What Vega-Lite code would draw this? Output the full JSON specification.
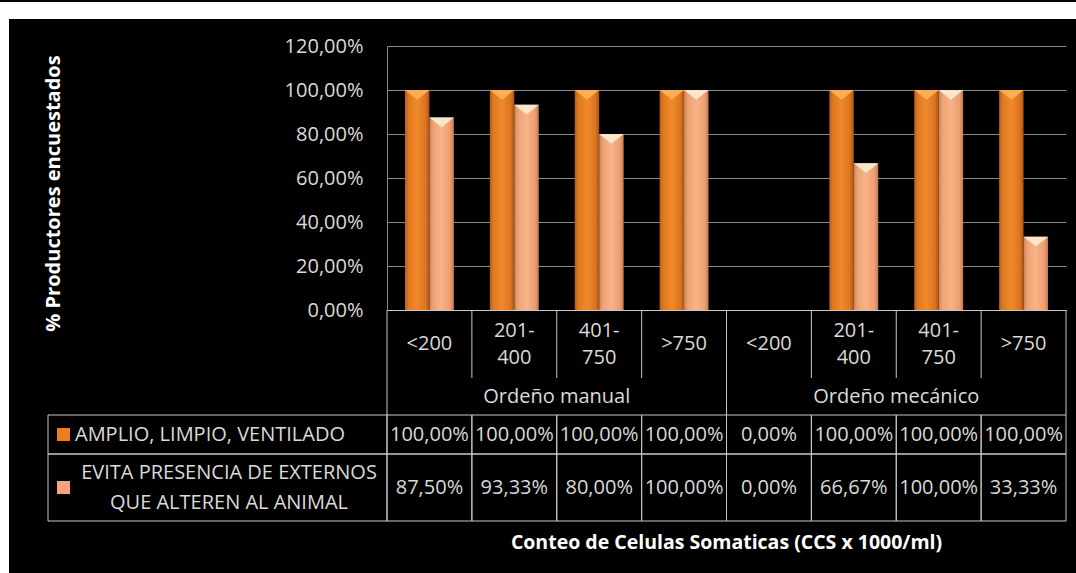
{
  "$schema": "https://vega.github.io/schema/vega-lite/v6.json",
  "background": "black",
  "padding": 0,
  "autosize": {"type": "pad"},
  "columns": 5,
  "spacing": 0,
  "bounds": "flush",
  "align": "each",
  "config": {
    "view": {"stroke": null},
    "font": "Open Sans",
    "text": {"font": "Open Sans", "fontSize": 20, "color": "#DADADA"},
    "locale": {"number": {"decimal": ",", "thousands": ".", "grouping": [3], "currency": ["", " €"]}}
  },
  "datasets": {
    "d": [
      {"grupo": "Ordeño manual", "rango": "<200", "col": "manual|<200", "s": "A", "serie": "AMPLIO, LIMPIO, VENTILADO", "valor": 1},
      {"grupo": "Ordeño manual", "rango": "<200", "col": "manual|<200", "s": "B", "serie": "EVITA PRESENCIA DE EXTERNOS\nQUE ALTEREN AL ANIMAL", "valor": 0.875},
      {"grupo": "Ordeño manual", "rango": "201-\n400", "col": "manual|201-400", "s": "A", "serie": "AMPLIO, LIMPIO, VENTILADO", "valor": 1},
      {"grupo": "Ordeño manual", "rango": "201-\n400", "col": "manual|201-400", "s": "B", "serie": "EVITA PRESENCIA DE EXTERNOS\nQUE ALTEREN AL ANIMAL", "valor": 0.9333},
      {"grupo": "Ordeño manual", "rango": "401-\n750", "col": "manual|401-750", "s": "A", "serie": "AMPLIO, LIMPIO, VENTILADO", "valor": 1},
      {"grupo": "Ordeño manual", "rango": "401-\n750", "col": "manual|401-750", "s": "B", "serie": "EVITA PRESENCIA DE EXTERNOS\nQUE ALTEREN AL ANIMAL", "valor": 0.8},
      {"grupo": "Ordeño manual", "rango": ">750", "col": "manual|>750", "s": "A", "serie": "AMPLIO, LIMPIO, VENTILADO", "valor": 1},
      {"grupo": "Ordeño manual", "rango": ">750", "col": "manual|>750", "s": "B", "serie": "EVITA PRESENCIA DE EXTERNOS\nQUE ALTEREN AL ANIMAL", "valor": 1},
      {"grupo": "Ordeño mecánico", "rango": "<200", "col": "mec|<200", "s": "A", "serie": "AMPLIO, LIMPIO, VENTILADO", "valor": 0},
      {"grupo": "Ordeño mecánico", "rango": "<200", "col": "mec|<200", "s": "B", "serie": "EVITA PRESENCIA DE EXTERNOS\nQUE ALTEREN AL ANIMAL", "valor": 0},
      {"grupo": "Ordeño mecánico", "rango": "201-\n400", "col": "mec|201-400", "s": "A", "serie": "AMPLIO, LIMPIO, VENTILADO", "valor": 1},
      {"grupo": "Ordeño mecánico", "rango": "201-\n400", "col": "mec|201-400", "s": "B", "serie": "EVITA PRESENCIA DE EXTERNOS\nQUE ALTEREN AL ANIMAL", "valor": 0.6667},
      {"grupo": "Ordeño mecánico", "rango": "401-\n750", "col": "mec|401-750", "s": "A", "serie": "AMPLIO, LIMPIO, VENTILADO", "valor": 1},
      {"grupo": "Ordeño mecánico", "rango": "401-\n750", "col": "mec|401-750", "s": "B", "serie": "EVITA PRESENCIA DE EXTERNOS\nQUE ALTEREN AL ANIMAL", "valor": 1},
      {"grupo": "Ordeño mecánico", "rango": ">750", "col": "mec|>750", "s": "A", "serie": "AMPLIO, LIMPIO, VENTILADO", "valor": 1},
      {"grupo": "Ordeño mecánico", "rango": ">750", "col": "mec|>750", "s": "B", "serie": "EVITA PRESENCIA DE EXTERNOS\nQUE ALTEREN AL ANIMAL", "valor": 0.3333}
    ]
  },
  "concat": [
    {"width": 9, "height": 17, "view": {"fill": "white"}, "data": {"values": [{}]}, "mark": {"type": "text", "text": ""}},
    {"width": 39, "height": 17, "view": {"fill": "white"}, "data": {"values": [{}]}, "mark": {"type": "text", "text": ""}},
    {"width": 339, "height": 17, "view": {"fill": "white"}, "data": {"values": [{}]}, "mark": {"type": "text", "text": ""}},
    {"width": 679, "height": 17, "view": {"fill": "white"}, "data": {"values": [{}]}, "mark": {"type": "text", "text": ""}},
    {"width": 10, "height": 17, "view": {"fill": "white"}, "data": {"values": [{}]}, "mark": {"type": "text", "text": ""}},

    {"width": 9, "height": 27, "view": {"fill": "white"}, "data": {"values": [{}]}, "mark": {"type": "text", "text": ""}},
    {"width": 39, "height": 27, "data": {"values": [{}]}, "mark": {"type": "text", "text": ""}},
    {"width": 339, "height": 27, "data": {"values": [{}]}, "mark": {"type": "text", "text": ""}},
    {"width": 679, "height": 27, "data": {"values": [{}]}, "mark": {"type": "text", "text": ""}},
    {"width": 10, "height": 27, "data": {"values": [{}]}, "mark": {"type": "text", "text": ""}},

    {"width": 9, "height": 264, "view": {"fill": "white"}, "data": {"values": [{}]}, "mark": {"type": "text", "text": ""}},
    {"width": 39, "height": 264, "data": {"values": [{}]}, "mark": {"type": "text", "text": ""}},
    {"width": 339, "height": 264, "data": {"values": [{}]}, "mark": {"type": "text", "text": ""}},
    {
      "width": 679, "height": 264,
      "data": {"name": "d"},
      "encoding": {
        "x": {"field": "col", "type": "nominal",
              "sort": ["manual|<200","manual|201-400","manual|401-750","manual|>750","mec|<200","mec|201-400","mec|401-750","mec|>750"],
              "scale": {"paddingInner": 0, "paddingOuter": 0},
              "axis": {"labels": false, "ticks": false, "title": null, "grid": false, "domainColor": "#C8C8C8", "domainWidth": 1}},
        "xOffset": {"field": "s", "type": "nominal", "scale": {"domain": ["A", "B"], "paddingInner": 0, "paddingOuter": 0.735}},
        "y": {"field": "valor", "type": "quantitative",
              "scale": {"domain": [0, 1.2], "nice": false},
              "axis": {"values": [0, 0.2, 0.4, 0.6, 0.8, 1, 1.2], "format": ".2%",
                       "labelFont": "Open Sans", "labelFontSize": 20, "labelColor": "#DADADA", "labelPadding": 24,
                       "ticks": false, "grid": true, "gridColor": "#8A8A8A", "domainColor": "#8A8A8A",
                       "title": "% Productores encuestados", "titleFont": "Open Sans", "titleFontWeight": "bold", "titleFontSize": 20,
                       "titleColor": "#FFFFFF", "titleX": -334, "titleY": 147, "titleAngle": -90, "titleAlign": "center", "titleBaseline": "middle"}}
      },
      "layer": [
        {"transform": [{"filter": "datum.s == 'A'"}],
         "mark": {"type": "bar", "stroke": null,
                  "fill": {"gradient": "linear", "x1": 0, "y1": 0, "x2": 1, "y2": 0,
                           "stops": [{"offset": 0, "color": "#B45E18"}, {"offset": 0.15, "color": "#E07A20"}, {"offset": 0.5, "color": "#F0892B"}, {"offset": 0.85, "color": "#DC7420"}, {"offset": 1, "color": "#A85416"}]}}},
        {"transform": [{"filter": "datum.s == 'B'"}],
         "mark": {"type": "bar", "stroke": null,
                  "fill": {"gradient": "linear", "x1": 0, "y1": 0, "x2": 1, "y2": 0,
                           "stops": [{"offset": 0, "color": "#C8845A"}, {"offset": 0.15, "color": "#EEA274"}, {"offset": 0.5, "color": "#F8B387"}, {"offset": 0.85, "color": "#EC9E70"}, {"offset": 1, "color": "#BE7A52"}]}}},
        {"transform": [{"filter": "datum.valor > 0"}],
         "mark": {"type": "point", "shape": "M-1,0L1,0L0,0.8Z", "size": 598, "filled": true, "opacity": 1, "strokeWidth": 0},
         "encoding": {"color": {"field": "s", "type": "nominal", "scale": {"domain": ["A", "B"], "range": ["#FFAE52", "#FFE6C8"]}, "legend": null}}}
      ]
    },
    {"width": 10, "height": 264, "data": {"values": [{}]}, "mark": {"type": "text", "text": ""}},

    {"width": 9, "height": 68, "view": {"fill": "white"}, "data": {"values": [{}]}, "mark": {"type": "text", "text": ""}},
    {"width": 39, "height": 68, "data": {"values": [{}]}, "mark": {"type": "text", "text": ""}},
    {"width": 339, "height": 68, "data": {"values": [{}]}, "mark": {"type": "text", "text": ""}},
    {
      "width": 679, "height": 68,
      "data": {"name": "d"},
      "transform": [{"filter": "datum.s == 'A'"}],
      "layer": [
        {"mark": {"type": "rule", "color": "#C8C8C8", "strokeWidth": 1},
         "encoding": {"x": {"field": "col", "type": "nominal", "bandPosition": 0,
                            "sort": ["manual|<200","manual|201-400","manual|401-750","manual|>750","mec|<200","mec|201-400","mec|401-750","mec|>750"],
                            "scale": {"paddingInner": 0, "paddingOuter": 0}, "axis": null}}},
        {"transform": [{"filter": "datum.col == 'mec|>750'"}],
         "mark": {"type": "rule", "color": "#C8C8C8", "strokeWidth": 1},
         "encoding": {"x": {"field": "col", "type": "nominal", "bandPosition": 1,
                            "sort": ["manual|<200","manual|201-400","manual|401-750","manual|>750","mec|<200","mec|201-400","mec|401-750","mec|>750"],
                            "scale": {"paddingInner": 0, "paddingOuter": 0}, "axis": null}}},
        {"transform": [{"filter": "datum.rango == '<200' || datum.rango == '>750'"}],
         "mark": {"type": "text", "baseline": "middle", "align": "center"},
         "encoding": {"x": {"field": "col", "type": "nominal",
                            "sort": ["manual|<200","manual|201-400","manual|401-750","manual|>750","mec|<200","mec|201-400","mec|401-750","mec|>750"],
                            "scale": {"paddingInner": 0, "paddingOuter": 0}, "axis": null},
                      "text": {"field": "rango"}}},
        {"transform": [{"filter": "datum.rango != '<200' && datum.rango != '>750'"}],
         "mark": {"type": "text", "lineBreak": "\n", "lineHeight": 27, "baseline": "middle", "align": "center", "dy": -13.5},
         "encoding": {"x": {"field": "col", "type": "nominal",
                            "sort": ["manual|<200","manual|201-400","manual|401-750","manual|>750","mec|<200","mec|201-400","mec|401-750","mec|>750"],
                            "scale": {"paddingInner": 0, "paddingOuter": 0}, "axis": null},
                      "text": {"field": "rango"}}}
      ]
    },
    {"width": 10, "height": 68, "data": {"values": [{}]}, "mark": {"type": "text", "text": ""}},

    {"width": 9, "height": 37, "view": {"fill": "white"}, "data": {"values": [{}]}, "mark": {"type": "text", "text": ""}},
    {"width": 39, "height": 37, "data": {"values": [{}]}, "mark": {"type": "text", "text": ""}},
    {"width": 339, "height": 37, "data": {"values": [{}]}, "mark": {"type": "text", "text": ""}},
    {
      "width": 679, "height": 37,
      "data": {"name": "d"},
      "transform": [{"filter": "datum.s == 'A' && datum.rango == '<200'"}],
      "layer": [
        {"mark": {"type": "rule", "color": "#C8C8C8", "strokeWidth": 1},
         "encoding": {"x": {"field": "grupo", "type": "nominal", "bandPosition": 0, "sort": ["Ordeño manual", "Ordeño mecánico"],
                            "scale": {"paddingInner": 0, "paddingOuter": 0}, "axis": null}}},
        {"transform": [{"filter": "datum.grupo == 'Ordeño mecánico'"}],
         "mark": {"type": "rule", "color": "#C8C8C8", "strokeWidth": 1},
         "encoding": {"x": {"field": "grupo", "type": "nominal", "bandPosition": 1, "sort": ["Ordeño manual", "Ordeño mecánico"],
                            "scale": {"paddingInner": 0, "paddingOuter": 0}, "axis": null}}},
        {"mark": {"type": "text", "baseline": "middle", "align": "center"},
         "encoding": {"x": {"field": "grupo", "type": "nominal", "sort": ["Ordeño manual", "Ordeño mecánico"],
                            "scale": {"paddingInner": 0, "paddingOuter": 0}, "axis": null},
                      "text": {"field": "grupo"}}}
      ]
    },
    {"width": 10, "height": 37, "data": {"values": [{}]}, "mark": {"type": "text", "text": ""}},

    {"width": 9, "height": 39, "view": {"fill": "white"}, "data": {"values": [{}]}, "mark": {"type": "text", "text": ""}},
    {"width": 39, "height": 39, "data": {"values": [{}]}, "mark": {"type": "text", "text": ""}},
    {
      "width": 339, "height": 39,
      "data": {"name": "d"},
      "transform": [{"filter": "datum.s == 'A' && datum.col == 'manual|<200'"}],
      "layer": [
        {"mark": {"type": "rect", "fill": "transparent", "stroke": "#C8C8C8", "strokeWidth": 1},
         "encoding": {"x": {"field": "s", "type": "nominal", "scale": {"paddingInner": 0, "paddingOuter": 0}, "axis": null}}},
        {"mark": {"type": "point", "shape": "square", "size": 169, "filled": true, "opacity": 1, "color": "#E8801F"},
         "encoding": {"x": {"field": "s", "type": "nominal", "bandPosition": 0.0457, "scale": {"paddingInner": 0, "paddingOuter": 0}, "axis": null}}},
        {"mark": {"type": "text", "align": "left", "baseline": "middle"},
         "encoding": {"x": {"field": "s", "type": "nominal", "bandPosition": 0.0796, "scale": {"paddingInner": 0, "paddingOuter": 0}, "axis": null},
                      "text": {"field": "serie"}}}
      ]
    },
    {
      "width": 679, "height": 39,
      "data": {"name": "d"},
      "transform": [{"filter": "datum.s == 'A'"}],
      "encoding": {"x": {"field": "col", "type": "nominal",
                         "sort": ["manual|<200","manual|201-400","manual|401-750","manual|>750","mec|<200","mec|201-400","mec|401-750","mec|>750"],
                         "scale": {"paddingInner": 0, "paddingOuter": 0}, "axis": null}},
      "layer": [
        {"mark": {"type": "rect", "fill": "transparent", "stroke": "#C8C8C8", "strokeWidth": 1}},
        {"mark": {"type": "text", "align": "center", "baseline": "middle"},
         "encoding": {"text": {"field": "valor", "type": "quantitative", "format": ".2%"}}}
      ]
    },
    {"width": 10, "height": 39, "data": {"values": [{}]}, "mark": {"type": "text", "text": ""}},

    {"width": 9, "height": 67, "view": {"fill": "white"}, "data": {"values": [{}]}, "mark": {"type": "text", "text": ""}},
    {"width": 39, "height": 67, "data": {"values": [{}]}, "mark": {"type": "text", "text": ""}},
    {
      "width": 339, "height": 67,
      "data": {"name": "d"},
      "transform": [{"filter": "datum.s == 'B' && datum.col == 'manual|<200'"}],
      "layer": [
        {"mark": {"type": "rect", "fill": "transparent", "stroke": "#C8C8C8", "strokeWidth": 1},
         "encoding": {"x": {"field": "s", "type": "nominal", "scale": {"paddingInner": 0, "paddingOuter": 0}, "axis": null}}},
        {"mark": {"type": "point", "shape": "square", "size": 169, "filled": true, "opacity": 1, "color": "#F2A57A"},
         "encoding": {"x": {"field": "s", "type": "nominal", "bandPosition": 0.0457, "scale": {"paddingInner": 0, "paddingOuter": 0}, "axis": null},
                      "y": {"field": "s", "type": "nominal", "bandPosition": 0.3, "scale": {"paddingInner": 0, "paddingOuter": 0}, "axis": null}}},
        {"mark": {"type": "text", "align": "center", "baseline": "middle", "lineBreak": "\n", "lineHeight": 30, "dy": -15},
         "encoding": {"x": {"field": "s", "type": "nominal", "bandPosition": 0.534, "scale": {"paddingInner": 0, "paddingOuter": 0}, "axis": null},
                      "text": {"field": "serie"}}}
      ]
    },
    {
      "width": 679, "height": 67,
      "data": {"name": "d"},
      "transform": [{"filter": "datum.s == 'B'"}],
      "encoding": {"x": {"field": "col", "type": "nominal",
                         "sort": ["manual|<200","manual|201-400","manual|401-750","manual|>750","mec|<200","mec|201-400","mec|401-750","mec|>750"],
                         "scale": {"paddingInner": 0, "paddingOuter": 0}, "axis": null}},
      "layer": [
        {"mark": {"type": "rect", "fill": "transparent", "stroke": "#C8C8C8", "strokeWidth": 1}},
        {"mark": {"type": "text", "align": "center", "baseline": "middle"},
         "encoding": {"text": {"field": "valor", "type": "quantitative", "format": ".2%"}}}
      ]
    },
    {"width": 10, "height": 67, "data": {"values": [{}]}, "mark": {"type": "text", "text": ""}},

    {"width": 9, "height": 53, "view": {"fill": "white"}, "data": {"values": [{}]}, "mark": {"type": "text", "text": ""}},
    {"width": 39, "height": 53, "data": {"values": [{}]}, "mark": {"type": "text", "text": ""}},
    {"width": 339, "height": 53, "data": {"values": [{}]}, "mark": {"type": "text", "text": ""}},
    {"width": 679, "height": 53,
     "data": {"values": [{"t": "Conteo de Celulas Somaticas (CCS x 1000/ml)"}]},
     "mark": {"type": "text", "font": "Open Sans", "fontWeight": "bold", "fontSize": 19.5, "color": "#FFFFFF", "align": "center", "baseline": "middle", "dy": -5},
     "encoding": {"text": {"field": "t"}}},
    {"width": 10, "height": 53, "data": {"values": [{}]}, "mark": {"type": "text", "text": ""}}
  ]
}
